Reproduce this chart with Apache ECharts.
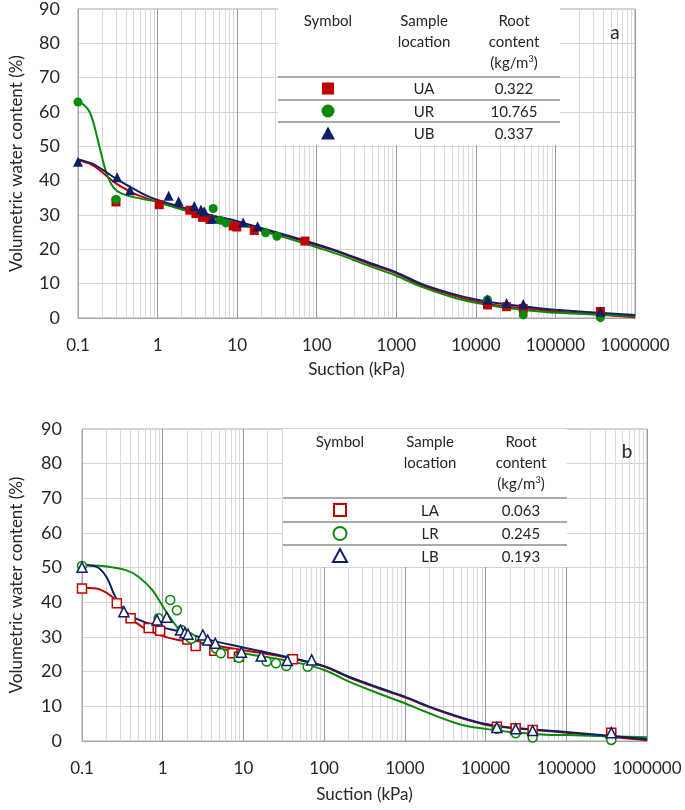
<!DOCTYPE html>
<html>
<head>
<meta charset="utf-8">
<script src="https://cdn.jsdelivr.net/npm/echarts@6/dist/echarts.min.js"></script>
<style>html,body{margin:0;padding:0;background:#fff;}#c{width:685px;height:810px;}</style>
</head>
<body>
<div id="c"></div>
<script>
// ---------- DATA ----------
const xTickLabels = ['0.1','1','10','100','1000','10000','100000','1000000'];
const yTicks = [0,10,20,30,40,50,60,70,80,90];

// Chart a – measured points
const uaX = [0.3, 1.05, 2.55, 3.03, 3.68, 4.55, 8.9, 9.9, 16.4, 71, 14000, 24300, 39400, 368000];
const uaY = [33.8, 33.0, 31.4, 30.4, 29.3, 28.7, 26.8, 26.5, 25.5, 22.4, 3.8, 3.3, 2.8, 1.9];
const urX = [0.1, 0.3, 5.0, 6.1, 7.2, 22.8, 31.6, 14000, 39400, 368000];
const urY = [62.9, 34.5, 31.9, 28.5, 27.7, 24.8, 23.8, 5.3, 0.9, 0.1];
const ubX = [0.1, 0.31, 0.45, 1.38, 1.84, 2.89, 3.51, 3.86, 4.87, 11.9, 18.1, 14000, 24300, 39400, 368000];
const ubY = [45.5, 41.0, 37.2, 35.6, 34.0, 32.6, 31.6, 31.1, 28.9, 27.8, 26.7, 5.4, 4.4, 4.1, 1.8];

// Chart a – fitted curves
const curveAX = [0.1,0.15,0.2,0.3,0.5,0.7,1,2,5,10,20,50,100,200,500,1000,2000,5000,10000,20000,50000,100000,1000000];
const uaFit = [46,44.6,42.5,39.2,36.3,35,33.8,31.8,29.4,27.6,25.7,23.3,21.2,19,15.4,13,9.7,6.7,4.8,3.6,2.6,1.9,0.2];
const ubFit = [46.2,45,43.3,40.6,37.6,35.8,34.4,32.3,29.8,28.2,26.2,23.6,21.5,19.2,15.8,13.3,10.1,7.1,5.4,4.2,3.1,2.4,0.9];
const urFitX = [0.1,0.12,0.14,0.16,0.19,0.23,0.28,0.35,0.5,0.7,1,2,5,10,20,50,100,200,500,1000,2000,5000,10000,20000,50000,100000,1000000];
const urFit = [63,62,60,56,49,42,38,36.3,35.2,34.5,33.8,31.6,29.2,27.5,25.4,22.8,20.6,18.3,14.8,12.3,9.2,6.1,4.4,3.2,2.1,1.5,0.6];

// Chart b – measured points
const laX = [0.1, 0.27, 0.40, 0.67, 0.93, 2.02, 2.56, 4.36, 7.3, 8.8, 41, 13800, 23600, 38300, 361000];
const laY = [44.0, 39.7, 35.4, 32.6, 31.8, 29.3, 27.4, 26.0, 25.3, 24.3, 23.6, 4.1, 3.7, 3.2, 2.4];
const lrX = [0.1, 0.89, 1.24, 1.50, 1.71, 2.16, 2.26, 4.56, 5.25, 8.8, 19.4, 25.3, 34, 62.5, 13800, 23600, 38300, 361000];
const lrY = [50.5, 35.4, 40.7, 37.7, 32.0, 29.9, 29.5, 26.7, 25.3, 24.0, 22.9, 22.4, 21.6, 21.4, 3.5, 2.2, 1.0, 0.3];
const lbX = [0.1, 0.33, 0.85, 1.12, 1.66, 1.88, 2.06, 3.14, 3.61, 4.48, 9.46, 16.6, 35, 70, 13800, 23600, 38300, 361000];
const lbY = [50.1, 37.3, 34.9, 35.7, 32.0, 31.2, 30.8, 30.6, 29.1, 28.2, 25.6, 24.5, 23.2, 23.4, 3.9, 3.5, 3.0, 2.4];

// Chart b – fitted curves
const laFitX = [0.1,0.15,0.2,0.26,0.38,0.55,0.9,1.5,3,10,40,100,200,500,1000,2000,5000,10000,20000,50000,100000,1000000];
const laFit = [44.2,44,42.8,40.7,36,33,30.6,29.2,28.2,26.2,23.8,21.5,18.4,15,12.6,9.8,6.6,4.7,3.8,3,2.4,0.2];
const lbFitX = [0.1,0.15,0.2,0.26,0.35,0.5,0.9,1.7,3.9,10,40,100,200,500,1000,2000,5000,10000,20000,50000,100000,1000000];
const lbFit = [50.8,50.3,47.4,41.5,37.3,35,33,31.5,29.1,27,23.9,21.6,18.6,15.2,12.8,9.9,6.8,4.9,3.9,3.1,2.6,0.5];
const lrFitX = [0.1,0.18,0.35,0.5,0.74,1.07,1.56,2.26,4.36,10,40,100,200,500,1000,2000,5000,10000,20000,50000,100000,1000000];
const lrFit = [50.8,50.5,49.3,47.4,43.6,37.8,32.5,29.6,27.2,25.3,22.9,20.5,17.2,13.5,10.9,8.0,4.7,3.5,2.6,1.9,1.7,1.1];

// Legend tables
const tableA = [['UA','0.322'],['UR','10.765'],['UB','0.337']];
const tableB = [['LA','0.063'],['LR','0.245'],['LB','0.193']];

// ---------- STYLE ----------
const RED = '#c00000', GREEN = '#0a8a0a', NAVY = '#0d1f66';
const FONT = 'Lato';
const TXT = '#262626';

function pairs(xs, ys){ return xs.map((x,i)=>[x, ys[i]]); }
const minorVals = [];
for (let e=-1; e<6; e++) for (let m=2; m<=9; m++) minorVals.push(+(m*Math.pow(10,e)).toPrecision(2));

function fmtX(v){ return v < 1 ? String(+v.toPrecision(1)) : String(Math.round(v)); }

function xAxis(gi, gap){
  return {
    type:'log', logBase:10, min:0.1, max:1000000, gridIndex:gi,
    name:'Suction (kPa)', nameLocation:'middle', nameGap:gap,
    nameTextStyle:{fontFamily:FONT, fontSize:17, color:TXT},
    axisLine:{show:true, lineStyle:{color:'#a6a6a6'}},
    axisTick:{show:false},
    axisLabel:{fontFamily:FONT, fontSize:17, color:TXT, margin:19, formatter:fmtX},
    splitLine:{show:true, lineStyle:{color:'#9a9a9a', width:1}}
  };
}
function yAxis(gi, gap, margin){
  return {
    type:'value', min:0, max:90, interval:10, gridIndex:gi,
    name:'Volumetric water content (%)', nameLocation:'middle', nameGap:gap,
    nameTextStyle:{fontFamily:FONT, fontSize:17, color:TXT},
    axisLine:{show:true, lineStyle:{color:'#a6a6a6'}},
    axisTick:{show:false},
    axisLabel:{fontFamily:FONT, fontSize:18, color:TXT, margin:margin},
    splitLine:{show:true, lineStyle:{color:'#d4d4d4', width:1}}
  };
}
function minorSeries(gi){
  return {
    type:'line', xAxisIndex:gi, yAxisIndex:gi, data:[], silent:true, z:1,
    markLine:{silent:true, z:1, symbol:['none','none'], label:{show:false}, animation:false,
      lineStyle:{color:'#d9d9d9', width:1, type:'solid'},
      data: minorVals.map(v=>({xAxis:v}))}
  };
}
function curve(gi, xs, ys, color){
  return {type:'line', xAxisIndex:gi, yAxisIndex:gi, data:pairs(xs,ys), smooth:0.35,
    showSymbol:false, symbol:'none', lineStyle:{color:color, width:2}, z:3, animation:false};
}
function scatter(gi, xs, ys, symbol, size, color, empty){
  const s = {type:'scatter', xAxisIndex:gi, yAxisIndex:gi, data:pairs(xs,ys), symbol:symbol,
    symbolSize:size, z:4, animation:false};
  s.itemStyle = empty ? {color:'#fff', borderColor:color, borderWidth:1.5, opacity:1} : {color:color, opacity:1};
  return s;
}

// Legend table graphics
function table(x0, x1, y0, lines, bottom, colSym, colLoc, colRoot, rows, empty, letter, lx, ly){
  const g = [];
  g.push({type:'rect', shape:{x:x0, y:y0, width:x1-x0, height:bottom-y0}, style:{fill:'#fff'}, z:50, silent:true});
  lines.forEach(y=>g.push({type:'line', shape:{x1:x0, y1:y, x2:x1, y2:y}, style:{stroke:'#8c8c8c', lineWidth:1.5}, z:51}));
  const ts = (t,x,y)=>({type:'text', x:x, y:y, z:52, style:{text:t, fill:TXT, font:'15px '+FONT, align:'center', verticalAlign:'middle'}});
  g.push(ts('Symbol', colSym, y0+13));
  g.push(ts('Sample', colLoc, y0+13));
  g.push(ts('location', colLoc, y0+34));
  g.push(ts('Root', colRoot, y0+13));
  g.push(ts('content', colRoot, y0+34));
  g.push({type:'text', x:colRoot, y:y0+55, z:52, style:{rich:{n:{font:'15px '+FONT, fill:TXT}, s:{font:'9px '+FONT, fill:TXT, verticalAlign:'top', padding:[0,0,8,0]}}, text:'{n|(kg/m}{s|3}{n|)}', align:'center', verticalAlign:'middle'}});
  const ys = [ (lines[0]+lines[1])/2, (lines[1]+lines[2])/2, (lines[2]+bottom)/2 ];
  rows.forEach((r,i)=>{ g.push(ts(r[0], colLoc, ys[i]+1)); g.push(ts(r[1], colRoot, ys[i]+1)); });
  const cols = [RED, GREEN, NAVY];
  ys.forEach((y,i)=>{
    const c = cols[i];
    const st = empty ? {fill:'#fff', stroke:c, lineWidth:2} : {fill:c};
    let el;
    if (i===0) el = {type:'rect', shape:{x:colSym-6, y:y-6, width:12, height:12}, style:st};
    else if (i===1) el = {type:'circle', shape:{cx:colSym, cy:y, r:6.5}, style:st};
    else el = {type:'polygon', shape:{points:[[colSym, y-7],[colSym+7, y+6],[colSym-7, y+6]]}, style:st};
    el.z = 53; g.push(el);
  });
  g.push({type:'text', x:lx, y:ly, z:52, style:{text:letter, fill:TXT, font:'19px '+FONT, align:'center', verticalAlign:'middle'}});
  return g;
}

const chart = echarts.init(document.getElementById('c'), null, {renderer:'canvas'});
chart.setOption({
  animation:false,
  backgroundColor:'#fff',
  grid:[
    {left:78, top:8, width:557, height:310, show:true, borderColor:'#a6a6a6', borderWidth:1, backgroundColor:'transparent'},
    {left:72, top:429, width:575, height:312, show:true, borderColor:'#a6a6a6', borderWidth:1, backgroundColor:'transparent'}
  ],
  xAxis:[xAxis(0, 43), xAxis(1, 45)],
  yAxis:[yAxis(0, 53, 18), yAxis(1, 57, 20)],
  series:[
    minorSeries(0), minorSeries(1),
    curve(0, curveAX, uaFit, RED),
    curve(0, urFitX, urFit, GREEN),
    curve(0, curveAX, ubFit, NAVY),
    scatter(0, uaX, uaY, 'rect', 9, RED, false),
    scatter(0, urX, urY, 'circle', 9, GREEN, false),
    scatter(0, ubX, ubY, 'triangle', 10, NAVY, false),
    curve(1, laFitX, laFit, RED),
    curve(1, lrFitX, lrFit, GREEN),
    curve(1, lbFitX, lbFit, NAVY),
    scatter(1, laX, laY, 'rect', 9, RED, true),
    scatter(1, lrX, lrY, 'circle', 9, GREEN, true),
    scatter(1, lbX, lbY, 'triangle', 10, NAVY, true)
  ],
  graphic: [].concat(
    table(278, 560, 8, [77,100,122], 145, 328, 424, 514, tableA, false, 'a', 615, 33),
    table(283, 567, 429, [498,522,545], 567, 340, 430, 521, tableB, true, 'b', 627, 452)
  )
});
</script>
</body>
</html>
